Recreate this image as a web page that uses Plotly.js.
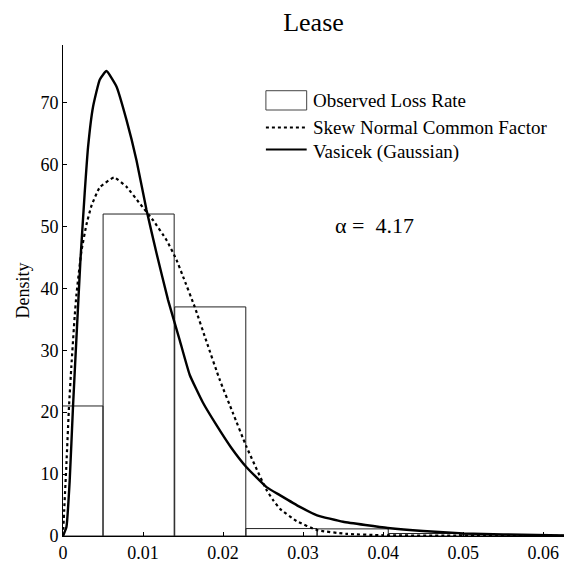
<!DOCTYPE html>
<html>
<head>
<meta charset="utf-8">
<script src="https://cdn.plot.ly/plotly-3.0.1.min.js"></script>
<style>html,body{margin:0;padding:0;background:#fff;}#chart{width:564px;height:566px;}</style>
</head>
<body>
<div id="chart"></div>
<script>
// Histogram of observed loss rate (bin centres, heights, common bin width)
const binCenters = [0.00055, 0.00945, 0.0184, 0.0273, 0.0362, 0.0451, 0.054];
const binHeights = [21.0, 52.0, 37.0, 1.2, 1.15, 0.4, 0.2];
const binWidth = 0.00888;

// Vasicek (Gaussian) density
const vasX = [0, 0.00043, 0.00084, 0.00125, 0.00168, 0.00218, 0.00271, 0.00313, 0.00375, 0.00459, 0.00543, 0.00668, 0.00793, 0.00918, 0.01043, 0.01168, 0.01313, 0.01459, 0.01584, 0.01746, 0.01918, 0.021, 0.02293, 0.02543, 0.02709, 0.0296, 0.03175, 0.035, 0.04059, 0.045, 0.05, 0.055, 0.0626];
const vasY = [0, 1.45, 9.0, 20.9, 32.0, 44.6, 55.4, 62.8, 69.3, 73.7, 75.1, 72.6, 67.2, 60.7, 52.7, 45.7, 38.1, 31.6, 26.0, 21.6, 17.9, 14.3, 11.1, 7.9, 6.6, 4.7, 3.35, 2.3, 1.3, 0.8, 0.43, 0.25, 0.1];

// Skew Normal Common Factor density
const snX = [0, 0.00015, 0.00043, 0.00075, 0.00105, 0.00146, 0.00168, 0.0023, 0.00293, 0.00355, 0.00459, 0.00638, 0.00793, 0.00959, 0.01125, 0.01293, 0.01418, 0.015, 0.01646, 0.01793, 0.01959, 0.02125, 0.02293, 0.0254, 0.02625, 0.0271, 0.0292, 0.03175, 0.0354, 0.04, 0.05, 0.0626];
const snY = [0, 4.2, 11.7, 20.9, 27.5, 35.5, 39.0, 46.0, 50.3, 53.3, 56.3, 57.9, 56.4, 53.7, 51, 47.8, 44.6, 41.9, 37, 31.4, 25.2, 19.8, 14.4, 7.5, 5.8, 4.4, 2.4, 0.95, 0.35, 0.12, 0.05, 0.02];

const xTickVals = [0, 0.01, 0.02, 0.03, 0.04, 0.05, 0.06];
const xTickText = ['0', '0.01', '0.02', '0.03', '0.04', '0.05', '0.06'];
const yTickVals = [0, 10, 20, 30, 40, 50, 60, 70];
const yTickText = ['0', '10', '20', '30', '40', '50', '60', '70'];

const legendLabels = ['Observed Loss Rate', 'Skew Normal Common Factor', 'Vasicek (Gaussian)'];
const alphaText = 'α =\u00a0 4.17';

const FONT = "'Liberation Serif', 'Times New Roman', Times, serif";

const traces = [
  {
    type: 'bar', x: binCenters, y: binHeights, width: binWidth,
    marker: {color: 'rgba(0,0,0,0)', line: {color: '#222', width: 1}},
    name: legendLabels[0], showlegend: false, hoverinfo: 'skip'
  },
  {
    type: 'scatter', mode: 'lines', x: snX, y: snY,
    line: {color: '#000', width: 2.2, dash: 'dot', shape: 'spline', smoothing: 0.4},
    name: legendLabels[1], showlegend: false
  },
  {
    type: 'scatter', mode: 'lines', x: vasX, y: vasY,
    line: {color: '#000', width: 2.4, shape: 'spline', smoothing: 0.4},
    name: legendLabels[2], showlegend: false
  }
];

const axisCommon = {
  showline: true, linecolor: '#000', linewidth: 1, mirror: false,
  showgrid: false, zeroline: false, ticks: 'inside', ticklen: 4, tickcolor: '#000',
  tickfont: {family: FONT, size: 18, color: '#000'}, fixedrange: true
};

const legX0 = 0.405, legX1 = 0.4864, legTextX = 0.495;
const layout = {
  width: 564, height: 566,
  margin: {l: 63, r: 0, t: 45, b: 30},
  paper_bgcolor: '#fff', plot_bgcolor: '#fff',
  font: {family: FONT, color: '#000'},
  showlegend: false,
  bargap: 0,
  title: {text: 'Lease', font: {family: FONT, size: 26, color: '#000'}, xref: 'paper', x: 0.5, xanchor: 'center', yref: 'container', y: 0.962, yanchor: 'middle'},
  xaxis: Object.assign({}, axisCommon, {range: [0, 0.0626], tickvals: xTickVals, ticktext: xTickText}),
  yaxis: Object.assign({}, axisCommon, {range: [0, 79.3], tickvals: yTickVals, ticktext: yTickText,
    title: {text: 'Density', font: {family: FONT, size: 18, color: '#000'}, standoff: 6}}),
  shapes: [
    {type: 'rect', xref: 'paper', yref: 'paper', x0: legX0, x1: legX1, y0: 0.8676, y1: 0.9069, line: {color: '#444', width: 1}, fillcolor: 'rgba(0,0,0,0)'},
    {type: 'line', xref: 'paper', yref: 'paper', x0: legX0, x1: legX1, y0: 0.832, y1: 0.832, line: {color: '#000', width: 2, dash: 'dot'}},
    {type: 'line', xref: 'paper', yref: 'paper', x0: legX0, x1: legX1, y0: 0.7872, y1: 0.7872, line: {color: '#000', width: 2}}
  ],
  annotations: [
    {text: legendLabels[0], xref: 'paper', yref: 'paper', x: legTextX, y: 0.886, xanchor: 'left', yanchor: 'middle', showarrow: false, font: {family: FONT, size: 19, color: '#000'}},
    {text: legendLabels[1], xref: 'paper', yref: 'paper', x: legTextX, y: 0.831, xanchor: 'left', yanchor: 'middle', showarrow: false, font: {family: FONT, size: 19, color: '#000'}},
    {text: legendLabels[2], xref: 'paper', yref: 'paper', x: legTextX, y: 0.782, xanchor: 'left', yanchor: 'middle', showarrow: false, font: {family: FONT, size: 19, color: '#000'}},
    {text: alphaText, xref: 'paper', yref: 'paper', x: 0.539, y: 0.633, xanchor: 'left', yanchor: 'middle', showarrow: false, font: {family: FONT, size: 22, color: '#000'}}
  ]
};

Plotly.newPlot('chart', traces, layout, {displayModeBar: false, staticPlot: true});
</script>
</body>
</html>
